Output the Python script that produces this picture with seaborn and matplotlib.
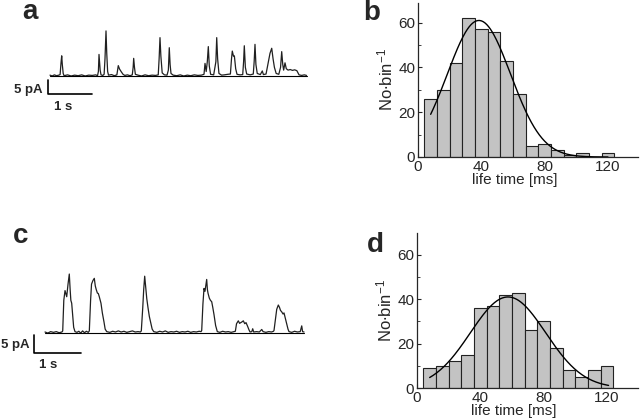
import matplotlib
matplotlib.use('Agg')
import matplotlib.pyplot as plt
import numpy as np
import pandas as pd
import seaborn as sns

# ---- histogram data (8 ms bins, first bin starts at 4 ms) ----
bin_edges = [4, 12, 20, 28, 36, 44, 52, 60, 68, 76, 84, 92, 100, 108, 116, 124]
counts_b = [26, 30, 42, 62, 57, 56, 43, 28, 5, 6, 3, 1, 2, 0, 2]
counts_d = [9, 10, 12, 15, 36, 37, 42, 43, 26, 30, 18, 8, 5, 8, 10]

# gaussian fits: amplitude, mean (ms), sd (ms), x range
fit_b = [61, 38.5, 20.0, 8, 120]
fit_d = [41, 57.5, 23.8, 8, 121]

# ---- single channel traces (time in s, current in pA) ----
trace_a_t = [0.00, 0.05, 0.10, 0.15, 0.20, 0.23, 0.25, 0.266, 0.28, 0.30, 0.32,
             0.40, 0.48, 0.56, 0.64, 0.72, 0.80, 0.88, 0.96, 1.04, 1.08,
             1.10, 1.114, 1.14, 1.16, 1.20, 1.23, 1.25, 1.273, 1.29, 1.31, 1.33,
             1.40, 1.46, 1.52, 1.552, 1.58, 1.62, 1.66, 1.70, 1.76, 1.82, 1.87,
             1.89, 1.902, 1.92, 1.94, 2.00, 2.08, 2.16, 2.24, 2.32, 2.40, 2.46,
             2.48, 2.50, 2.52, 2.55, 2.60, 2.66, 2.69, 2.711, 2.73, 2.75, 2.80,
             2.88, 2.96, 3.04, 3.12, 3.20, 3.28, 3.36, 3.44, 3.50, 3.523, 3.55,
             3.575, 3.598, 3.62, 3.65, 3.72, 3.77, 3.789, 3.81, 3.84, 3.90, 3.96,
             4.04, 4.10, 4.125, 4.143, 4.17, 4.19, 4.22, 4.25, 4.32, 4.38, 4.40,
             4.416, 4.44, 4.47, 4.55, 4.62, 4.64, 4.659, 4.68, 4.71, 4.78, 4.825,
             4.85, 4.91, 4.97, 5.00, 5.039, 5.07, 5.10, 5.14, 5.20, 5.24, 5.266,
             5.29, 5.31, 5.341, 5.37, 5.41, 5.46, 5.51, 5.56, 5.61, 5.66, 5.72,
             5.78, 5.83]
trace_a_i = [0.2, -0.1, 0.3, 0.0, 0.2, 0.4, 4.5, 7.1, 4.0, 0.8, 0.0,
             0.3, -0.1, 0.2, 0.0, 0.3, -0.1, 0.2, 0.1, 0.3, 0.0,
             1.5, 7.6, 2.0, 0.3, 0.1, 0.5, 6.0, 16.0, 8.0, 1.5, 0.2,
             0.4, 0.0, 0.3, 3.6, 2.4, 1.4, 0.5, 0.1, 0.3, 0.0, 0.3,
             3.0, 6.2, 3.0, 0.5, 0.2, -0.1, 0.3, 0.0, 0.2, 0.1, 0.3,
             6.0, 13.6, 7.0, 1.0, 0.3, 0.2, 2.0, 10.0, 4.0, 0.8, 0.2,
             0.0, 0.3, -0.1, 0.2, 0.0, 0.3, 0.1, 0.2, 0.5, 4.4, 1.5,
             5.0, 10.4, 3.5, 0.5, 0.3, 5.0, 13.6, 6.0, 0.8, 0.2, 0.3,
             0.5, 0.6, 6.0, 8.8, 7.0, 7.1, 2.5, 0.5, 0.3, 0.4, 5.0,
             10.7, 3.0, 0.6, 0.3, 0.6, 5.0, 11.2, 4.0, 0.8, 0.4, 1.7,
             0.4, 0.6, 5.5, 8.0, 9.8, 6.0, 3.0, 0.8, 0.5, 3.0, 8.6,
             4.0, 2.0, 4.6, 2.5, 2.0, 2.2, 1.9, 2.1, 1.8, 0.3, 0.1,
             0.3, 0.1]

trace_c_t = [0.00, 0.06, 0.12, 0.18, 0.24, 0.30, 0.36, 0.377, 0.40, 0.426, 0.445,
             0.462, 0.49, 0.517, 0.535, 0.55, 0.568, 0.59, 0.61, 0.638, 0.68,
             0.72, 0.76, 0.80, 0.84, 0.88, 0.92, 0.943, 0.97, 0.99, 1.02, 1.049,
             1.07, 1.09, 1.115, 1.134, 1.155, 1.175, 1.191, 1.22, 1.255, 1.28,
             1.313, 1.38, 1.44, 1.50, 1.56, 1.62, 1.68, 1.74, 1.80, 1.86, 1.92,
             1.98, 2.03, 2.049, 2.08, 2.10, 2.121, 2.14, 2.165, 2.191, 2.22,
             2.255, 2.28, 2.313, 2.38, 2.44, 2.50, 2.56, 2.62, 2.68, 2.74, 2.80,
             2.86, 2.92, 2.98, 3.04, 3.10, 3.16, 3.22, 3.28, 3.32, 3.334, 3.36,
             3.383, 3.404, 3.42, 3.44, 3.455, 3.468, 3.496, 3.52, 3.547, 3.57,
             3.596, 3.63, 3.666, 3.72, 3.78, 3.84, 3.90, 3.96, 4.02, 4.05, 4.075,
             4.113, 4.14, 4.164, 4.19, 4.219, 4.25, 4.277, 4.31, 4.34, 4.362,
             4.40, 4.419, 4.44, 4.50, 4.56, 4.611, 4.64, 4.70, 4.76, 4.82, 4.86,
             4.872, 4.90, 4.93, 4.964, 4.99, 5.01, 5.036, 5.064, 5.085, 5.106,
             5.14, 5.17, 5.191, 5.25, 5.31, 5.37, 5.43, 5.462, 5.48, 5.511]
trace_c_i = [0.2, -0.1, 0.3, 0.1, 0.3, 0.0, 0.2, 0.5, 9.0, 11.7, 10.8,
             10.0, 13.5, 16.3, 12.0, 9.0, 8.2, 4.5, 1.5, 0.3, 0.1,
             0.4, -0.1, 0.5, 0.0, 0.4, 0.1, 0.5, 9.0, 13.5, 14.5, 15.1,
             13.0, 12.0, 11.0, 10.9, 10.0, 9.0, 8.2, 5.5, 3.0, 1.0,
             0.3, 0.1, 0.4, 0.2, 0.5, 0.2, 0.4, 0.1, 0.3, 0.5, 0.2,
             0.3, 0.2, 0.5, 7.0, 12.0, 15.7, 13.0, 9.5, 7.0, 4.5,
             2.5, 1.0, 0.3, 0.1, 0.4, 0.2, 0.5, 0.1, 0.3, 0.2, 0.4,
             0.1, 0.3, 0.2, 0.4, 0.1, 0.3, 0.2, 0.4, 0.3, 0.6, 8.0,
             12.3, 11.5, 13.0, 14.8, 12.0, 11.0, 9.6, 9.0, 8.6, 7.0,
             5.0, 2.0, 0.3, 0.1, 0.4, 0.2, 0.3, 0.1, 0.3, 0.4, 2.5,
             3.3, 2.6, 2.8, 3.0, 3.3, 2.5, 2.8, 1.8, 0.8, 0.2,
             0.3, 1.1, 0.2, 0.3, 0.2, 0.9, 0.3, 0.1, 0.3, 0.2, 0.4,
             0.6, 3.5, 6.5, 7.7, 7.0, 6.2, 5.8, 5.2, 5.5, 4.4,
             2.5, 1.0, 0.3, 0.1, 0.4, 0.2, 0.3, 1.9, 0.3, 0.2]

scale_bar = [1.0, 5.0]  # 1 s, 5 pA

sns.set_style('ticks')
plt.rcParams['font.family'] = ['Liberation Sans', 'DejaVu Sans']
plt.rcParams['mathtext.fontset'] = 'custom'
plt.rcParams['mathtext.rm'] = 'Liberation Sans'
plt.rcParams['mathtext.it'] = 'Liberation Sans'

W, H = 640, 419
fig = plt.figure(figsize=(6.4, 4.19), dpi=100)


def px_rect(left, top, right, bottom):
    return [left / W, 1 - bottom / H, (right - left) / W, (bottom - top) / H]


def draw_trace(rect, t, cur, xlim, ylim, bar_corner, pa_text, s_text):
    ax = fig.add_axes(rect)
    sns.lineplot(x=t, y=cur, ax=ax, sort=False, estimator=None,
                 color='#202020', linewidth=0.9)
    ax.plot([t[0], t[-1]], [0, 0], color='black', linewidth=0.8)
    x0, y0 = bar_corner
    ax.plot([x0, x0, x0 + scale_bar[0]], [y0 + scale_bar[1], y0, y0],
            color='black', linewidth=1.2, clip_on=False)
    ax.text(pa_text[0], pa_text[1], '5 pA', ha='right', va='center',
            fontsize=9.5, fontweight='bold')
    ax.text(s_text[0], s_text[1], '1 s', ha='center', va='center',
            fontsize=9.5, fontweight='bold')
    ax.set_xlim(*xlim)
    ax.set_ylim(*ylim)
    ax.set_axis_off()
    return ax


def draw_hist(rect, counts, fit, xlim, ylim):
    ax = fig.add_axes(rect)
    edges = np.array(bin_edges, dtype=float)
    hist_df = pd.DataFrame({'life': (edges[:-1] + edges[1:]) / 2,
                            'n': counts})
    sns.histplot(data=hist_df, x='life', weights='n', bins=bin_edges, ax=ax,
                 color='#c3c3c3', edgecolor='#222222', linewidth=0.8, alpha=1)
    amp, mu, sd, lo, hi = fit
    xs = np.linspace(lo, hi, 200)
    sns.lineplot(x=xs, y=amp * np.exp(-(xs - mu) ** 2 / (2 * sd ** 2)),
                 ax=ax, color='black', linewidth=1.0)
    ax.set_xlim(*xlim)
    ax.set_ylim(*ylim)
    ax.set_xticks([0, 40, 80, 120])
    ax.set_xticks([20, 60, 100], minor=True)
    ax.set_yticks([0, 20, 40, 60])
    ax.set_yticks([10, 30, 50], minor=True)
    ax.tick_params(direction='in', length=3, width=0.8, labelsize=11, pad=2)
    ax.tick_params(which='minor', direction='in', length=2, width=0.6)
    for s in ['left', 'bottom']:
        ax.spines[s].set_linewidth(0.9)
    sns.despine(ax=ax)
    ax.set_xlabel('life time [ms]', fontsize=11, labelpad=0)
    ax.set_ylabel(r'No$\bullet$bin$^{-1}$', fontsize=12, labelpad=2)
    ax.xaxis.set_label_coords(0.44, -0.105)
    return ax


# panel a
draw_trace(px_rect(40, 20, 310, 100), trace_a_t, trace_a_i,
           (-0.227, 5.909), (-8.68, 19.9), (-0.052, -6.5),
           (-0.16, -5.0), (0.30, -11.1))
# panel c
draw_trace(px_rect(30, 260, 310, 365), trace_c_t, trace_c_i,
           (-0.319, 5.638), (-8.97, 20.2), (-0.228, -5.56),
           (-0.33, -3.4), (0.06, -9.0))

# panel b
draw_hist(px_rect(418, 3, 638, 157), counts_b, fit_b, (0, 139), (0, 68.8))
# panel d
draw_hist(px_rect(417, 233, 638, 388), counts_d, fit_d, (0, 139.6), (0, 69.8))

for lab, x, y in [('a', 22, 19), ('b', 363, 20), ('c', 13, 243), ('d', 367, 252)]:
    fig.text(x / W, 1 - y / H, lab, fontsize=20, fontweight='bold',
             ha='left', va='baseline')

fig.savefig('out.png', dpi=100)
